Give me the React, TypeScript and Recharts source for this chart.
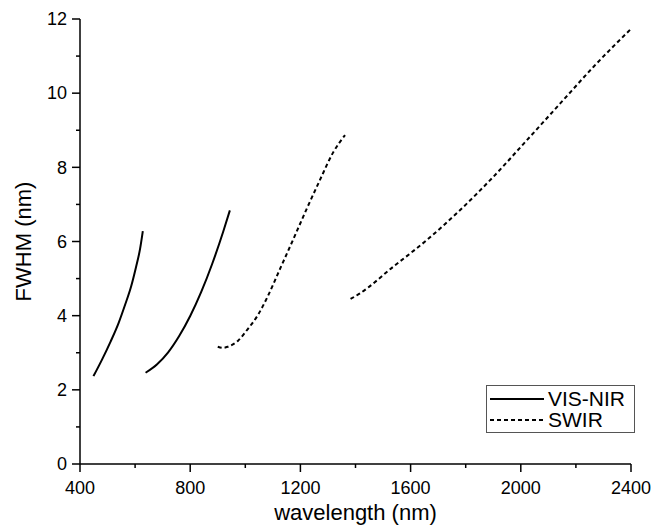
import React from 'react';
import { LineChart, Line, XAxis, YAxis, Legend } from 'recharts';

// VIS-NIR detector segments (wavelength nm, FWHM nm)
const visNirA = [
  { wl: 449, fwhm: 2.37 },
  { wl: 479, fwhm: 2.8 },
  { wl: 511, fwhm: 3.3 },
  { wl: 540, fwhm: 3.8 },
  { wl: 564, fwhm: 4.3 },
  { wl: 586, fwhm: 4.8 },
  { wl: 603, fwhm: 5.3 },
  { wl: 618, fwhm: 5.8 },
  { wl: 628, fwhm: 6.28 },
];
const visNirB = [
  { wl: 638, fwhm: 2.46 },
  { wl: 680, fwhm: 2.69 },
  { wl: 720, fwhm: 3.01 },
  { wl: 760, fwhm: 3.45 },
  { wl: 800, fwhm: 3.99 },
  { wl: 840, fwhm: 4.64 },
  { wl: 880, fwhm: 5.4 },
  { wl: 920, fwhm: 6.27 },
  { wl: 944, fwhm: 6.84 },
];
// SWIR detector segments
const swirA = [
  { wl: 900, fwhm: 3.16 },
  { wl: 918, fwhm: 3.13 },
  { wl: 936, fwhm: 3.16 },
  { wl: 973, fwhm: 3.32 },
  { wl: 1009, fwhm: 3.64 },
  { wl: 1046, fwhm: 4.02 },
  { wl: 1082, fwhm: 4.53 },
  { wl: 1126, fwhm: 5.26 },
  { wl: 1173, fwhm: 6.04 },
  { wl: 1224, fwhm: 6.9 },
  { wl: 1271, fwhm: 7.66 },
  { wl: 1318, fwhm: 8.39 },
  { wl: 1362, fwhm: 8.87 },
];
const swirB = [
  { wl: 1382, fwhm: 4.45 },
  { wl: 1416, fwhm: 4.6 },
  { wl: 1537, fwhm: 5.32 },
  { wl: 1659, fwhm: 6.04 },
  { wl: 1780, fwhm: 6.85 },
  { wl: 1901, fwhm: 7.75 },
  { wl: 2023, fwhm: 8.74 },
  { wl: 2144, fwhm: 9.73 },
  { wl: 2265, fwhm: 10.72 },
  { wl: 2398, fwhm: 11.72 },
];

const xTicks = [400, 600, 800, 1000, 1200, 1400, 1600, 1800, 2000, 2200, 2400];
const xLabelTicks = [400, 800, 1200, 1600, 2000, 2400];
const yTicks = [0, 1, 2, 3, 4, 5, 6, 7, 8, 9, 10, 11, 12];
const yLabelTicks = [0, 2, 4, 6, 8, 10, 12];

const seriesNames = ['VIS-NIR', 'SWIR'];
const xTitle = 'wavelength (nm)';
const yTitle = 'FWHM (nm)';

const FONT = '"Liberation Sans", Arial, sans-serif';
const DASH = '4 3';

const XTick = (props: any) => {
  const { x, y, payload } = props;
  const major = xLabelTicks.includes(payload.value);
  return (
    <g>
      <line x1={x} y1={y} x2={x} y2={y + (major ? 8 : 4)} stroke="#000" strokeWidth={1.5} />
      {major && (
        <text x={x} y={y + 30} textAnchor="middle" fontSize={18} fontFamily={FONT} fill="#000">
          {payload.value}
        </text>
      )}
    </g>
  );
};

const YTick = (props: any) => {
  const { x, y, payload } = props;
  const major = yLabelTicks.includes(payload.value);
  return (
    <g>
      <line x1={x} y1={y} x2={x - (major ? 8 : 4)} y2={y} stroke="#000" strokeWidth={1.5} />
      {major && (
        <text x={x - 13} y={y} dy="0.35em" textAnchor="end" fontSize={18} fontFamily={FONT} fill="#000">
          {payload.value}
        </text>
      )}
    </g>
  );
};

const LegendBox = () => (
  <div
    style={{
      border: '1px solid #555',
      background: '#fff',
      width: 149,
      height: 48,
      boxSizing: 'border-box',
      fontFamily: FONT,
      fontSize: 21,
      color: '#000',
      padding: '2px 0 0 3px',
    }}
  >
    {seriesNames.map((name, i) => (
      <div key={name} style={{ display: 'flex', alignItems: 'center', height: 21 }}>
        <svg width={54} height={10} style={{ marginRight: 4 }}>
          <line x1={0} y1={5} x2={54} y2={5} stroke="#000" strokeWidth={2} strokeDasharray={i === 1 ? DASH : undefined} />
        </svg>
        <span style={{ lineHeight: '21px' }}>{name}</span>
      </div>
    ))}
  </div>
);

export default function App() {
  return (
    <div style={{ position: 'absolute', left: 0, top: 0, width: 653, height: 527, background: '#fff' }}>
      <LineChart width={653} height={527} margin={{ top: 19, right: 22, bottom: 0, left: 0 }}>
        <XAxis
          type="number"
          dataKey="wl"
          domain={[400, 2400]}
          ticks={xTicks}
          interval={0}
          allowDataOverflow
          height={63}
          tickSize={0}
          tickMargin={0}
          tick={<XTick />}
          axisLine={{ stroke: '#000', strokeWidth: 1.5 }}
          label={{ value: xTitle, position: 'insideBottom', offset: 7, style: { fontSize: 22, fontFamily: FONT, fill: '#000' } }}
        />
        <YAxis
          type="number"
          dataKey="fwhm"
          domain={[0, 12]}
          ticks={yTicks}
          interval={0}
          allowDataOverflow
          width={80}
          tickSize={0}
          tickMargin={0}
          tick={<YTick />}
          axisLine={{ stroke: '#000', strokeWidth: 1.5 }}
          label={{ value: yTitle, angle: -90, position: 'insideLeft', offset: 23, style: { textAnchor: 'middle', fontSize: 22, fontFamily: FONT, fill: '#000' } }}
        />
        <Legend
          layout="vertical"
          align="center"
          verticalAlign="middle"
          content={<LegendBox />}
          wrapperStyle={{ position: 'absolute', left: 486, top: 385, width: 149, height: 48 }}
        />
        <Line data={visNirA} dataKey="fwhm" name={seriesNames[0]} type="monotone" stroke="#000" strokeWidth={2} dot={false} isAnimationActive={false} />
        <Line data={visNirB} dataKey="fwhm" name={seriesNames[0] + ' 2'} legendType="none" type="monotone" stroke="#000" strokeWidth={2} dot={false} isAnimationActive={false} />
        <Line data={swirA} dataKey="fwhm" name={seriesNames[1]} type="monotone" stroke="#000" strokeWidth={2} strokeDasharray={DASH} dot={false} isAnimationActive={false} />
        <Line data={swirB} dataKey="fwhm" name={seriesNames[1] + ' 2'} legendType="none" type="monotone" stroke="#000" strokeWidth={2} strokeDasharray={DASH} dot={false} isAnimationActive={false} />
      </LineChart>
    </div>
  );
}
